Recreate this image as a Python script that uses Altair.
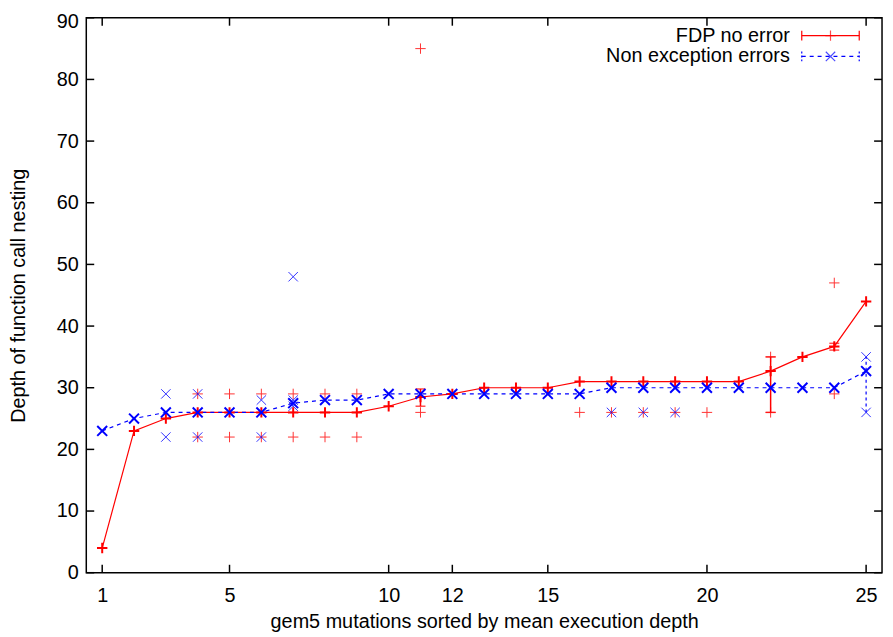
import altair as alt
import pandas as pd

# ---------------- data ----------------
x_idx = list(range(1, 26))
fdp_mean = [4, 23, 25, 26, 26, 26, 26, 26, 26, 27, 28.5, 29, 30, 30, 30,
            31, 31, 31, 31, 31, 31, 32.7, 35, 36.7, 44]
nee_mean = [23, 25, 26, 26, 26, 26, 27.5, 28, 28, 29, 29, 29, 29, 29, 29,
            29, 30, 30, 30, 30, 30, 30, 30, 30, 32.7]

fdp_err_x = [11, 22, 24]
fdp_err_lo = [27, 26, 36.1]
fdp_err_hi = [29.8, 35, 37.2]
nee_err_x = [25]
nee_err_lo = [26]
nee_err_hi = [35]

fdp_pts_x = [4, 4, 5, 5, 6, 6, 7, 7, 8, 8, 9, 9, 11, 11, 16, 17, 18, 19, 20, 22, 22, 24, 24]
fdp_pts_y = [29, 22, 29, 22, 29, 22, 29, 22, 29, 22, 29, 22, 26, 85, 26, 26, 26, 26, 26, 35, 26, 47, 29]
nee_pts_x = [3, 3, 4, 4, 6, 6, 7, 7, 7, 17, 18, 19, 25, 25]
nee_pts_y = [29, 22, 29, 22, 28, 22, 28, 27, 48, 26, 26, 26, 35, 26]

x_ticks = [1, 5, 10, 12, 15, 20, 25]
y_ticks = list(range(0, 91, 10))

legend_labels = ["FDP no error", "Non exception errors"]
x_title = "gem5 mutations sorted by mean execution depth"
y_title = "Depth of function call nesting"

# ---------------- styling ----------------
RED = "#ff0000"
BLUE = "#0000ff"
FONT = "Liberation Sans"
W, H = 803, 560
TL = 8  # inward tick length
PLUS = "M-1,0H1M0,-1V1"
CROSS = "M-1,-1L1,1M-1,1L1,-1"

df_mean = pd.DataFrame({"x": x_idx, "fdp": fdp_mean, "nee": nee_mean})
df_fe = pd.DataFrame({"x": fdp_err_x, "lo": fdp_err_lo, "hi": fdp_err_hi})
df_ne = pd.DataFrame({"x": nee_err_x, "lo": nee_err_lo, "hi": nee_err_hi})
df_fp = pd.DataFrame({"x": fdp_pts_x, "y": fdp_pts_y})
df_np = pd.DataFrame({"x": nee_pts_x, "y": nee_pts_y})
df_xt = pd.DataFrame({"x": x_ticks})
df_yt = pd.DataFrame({"t": y_ticks})
one = pd.DataFrame({"a": [0]})

xs = alt.Scale(domain=[0.5, 25.5], nice=False, zero=False)
ys = alt.Scale(domain=[0, 90], nice=False, zero=False)

Y_LABEL_OFFSET = {"condition": {"test": "datum.value === 90", "value": 4}, "value": 0}


def xq(f="x"):
    return alt.X(f"{f}:Q", scale=xs, title=x_title,
                 axis=alt.Axis(values=x_ticks, labelPadding=13, titlePadding=6,
                               labelFlush=False))


def yq(f):
    return alt.Y(f"{f}:Q", scale=ys, title=y_title,
                 axis=alt.Axis(values=y_ticks, labelPadding=8, titlePadding=28,
                               labelFlush=False, labelOffset=Y_LABEL_OFFSET))


red_line = alt.Chart(df_mean).mark_line(color=RED, strokeWidth=1.2).encode(x=xq(), y=yq("fdp"))
blue_line = alt.Chart(df_mean).mark_line(color=BLUE, strokeWidth=1.2, strokeDash=[4, 4]).encode(
    x=xq(), y=yq("nee"))

red_err = alt.Chart(df_fe).mark_rule(color=RED, strokeWidth=1.5).encode(x=xq(), y=yq("lo"), y2="hi:Q")
red_cap_lo = alt.Chart(df_fe).mark_tick(color=RED, orient="horizontal", size=10, thickness=1.5).encode(
    x=xq(), y=yq("lo"))
red_cap_hi = alt.Chart(df_fe).mark_tick(color=RED, orient="horizontal", size=10, thickness=1.5).encode(
    x=xq(), y=yq("hi"))
blue_err = alt.Chart(df_ne).mark_rule(color=BLUE, strokeWidth=1.2, strokeDash=[3, 3]).encode(
    x=xq(), y=yq("lo"), y2="hi:Q")

red_pts = alt.Chart(df_fp).mark_point(shape=PLUS, size=110, filled=False, color=RED,
                                      strokeWidth=1, opacity=0.8).encode(x=xq(), y=yq("y"))
blue_pts = alt.Chart(df_np).mark_point(shape=CROSS, size=90, filled=False, color=BLUE,
                                       strokeWidth=1, opacity=0.8).encode(x=xq(), y=yq("y"))

red_mean_pts = alt.Chart(df_mean).mark_point(shape=PLUS, size=110, filled=False, color=RED,
                                             strokeWidth=2, opacity=1).encode(x=xq(), y=yq("fdp"))
blue_mean_pts = alt.Chart(df_mean).mark_point(shape=CROSS, size=100, filled=False, color=BLUE,
                                              strokeWidth=2, opacity=1).encode(x=xq(), y=yq("nee"))

# inward ticks on all four sides
tick_b = alt.Chart(df_xt).mark_rule(color="black", strokeWidth=1.5).encode(
    x=xq(), y=alt.value(H), y2=alt.value(H - TL))
tick_t = alt.Chart(df_xt).mark_rule(color="black", strokeWidth=1.5).encode(
    x=xq(), y=alt.value(0), y2=alt.value(TL))
tick_l = alt.Chart(df_yt).mark_rule(color="black", strokeWidth=1.5).encode(
    y=yq("t"), x=alt.value(0), x2=alt.value(TL))
tick_r = alt.Chart(df_yt).mark_rule(color="black", strokeWidth=1.5).encode(
    y=yq("t"), x=alt.value(W), x2=alt.value(W - TL))

# key (top right, gnuplot style)
LX_TEXT, LX0, LX1, LXM = 710, 722, 780, 751
LY1, LY2 = 18, 39
leg = []
leg.append(alt.Chart(one).mark_text(text=legend_labels[0], align="right", baseline="middle",
                                    font=FONT, fontSize=20, color="black").encode(
    x=alt.value(LX_TEXT), y=alt.value(LY1)))
leg.append(alt.Chart(one).mark_text(text=legend_labels[1], align="right", baseline="middle",
                                    font=FONT, fontSize=20, color="black").encode(
    x=alt.value(LX_TEXT), y=alt.value(LY2)))
leg.append(alt.Chart(one).mark_rule(color=RED, strokeWidth=1.2).encode(
    x=alt.value(LX0), x2=alt.value(LX1), y=alt.value(LY1)))
for xv in (LX0, LX1):
    leg.append(alt.Chart(one).mark_rule(color=RED, strokeWidth=1.2).encode(
        x=alt.value(xv), y=alt.value(LY1 - 5), y2=alt.value(LY1 + 5)))
    leg.append(alt.Chart(one).mark_rule(color=BLUE, strokeWidth=1.2, strokeDash=[2, 2]).encode(
        x=alt.value(xv), y=alt.value(LY2 - 5), y2=alt.value(LY2 + 5)))
leg.append(alt.Chart(one).mark_point(shape=PLUS, size=110, filled=False, color=RED,
                                     strokeWidth=1.2).encode(x=alt.value(LXM), y=alt.value(LY1)))
leg.append(alt.Chart(one).mark_rule(color=BLUE, strokeWidth=1.2, strokeDash=[4, 4]).encode(
    x=alt.value(LX0), x2=alt.value(LX1), y=alt.value(LY2)))
leg.append(alt.Chart(one).mark_point(shape=CROSS, size=90, filled=False, color=BLUE,
                                     strokeWidth=1.2).encode(x=alt.value(LXM), y=alt.value(LY2)))

chart = alt.layer(
    red_line, blue_line, red_err, red_cap_lo, red_cap_hi, blue_err,
    red_pts, blue_pts, red_mean_pts, blue_mean_pts,
    tick_b, tick_t, tick_l, tick_r, *leg
).properties(
    width=W, height=H,
    autosize=alt.AutoSizeParams(type="none"),
    padding={"left": 79, "top": 7, "right": 3, "bottom": 60},
    background="white",
).configure_view(
    stroke="black", strokeWidth=1.5
).configure_axis(
    domain=False, ticks=False, grid=False,
    labelFont=FONT, labelFontSize=20, labelColor="black",
    titleFont=FONT, titleFontSize=20, titleFontWeight="normal", titleColor="black",
)

chart.save("out.html", embed_options={"renderer": "svg", "actions": False})
